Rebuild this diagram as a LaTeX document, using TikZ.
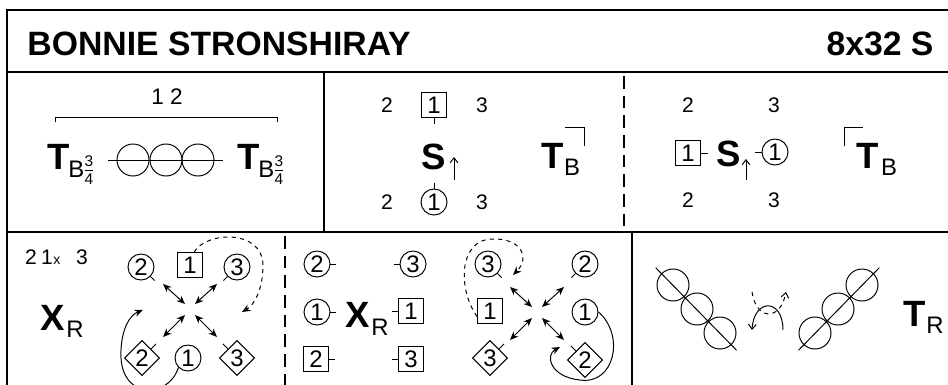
\documentclass[tikz,border=0pt]{standalone}
\usepackage{fontspec}
\setmainfont{Liberation Sans}
\usetikzlibrary{arrows.meta,shapes.geometric,calc}

\tikzset{
  frame/.style={line width=1.4pt},
  num/.style={font=\fontsize{15}{15}\selectfont},
  big/.style={font=\fontsize{26}{26}\selectfont\bfseries},
  sub/.style={font=\fontsize{17}{17}\selectfont},
  tiny/.style={font=\fontsize{11}{11}\selectfont,inner sep=0pt},
  lady/.style={circle,draw,inner sep=0pt,minimum size=0.65cm,font=\fontsize{17}{17}\selectfont},
  man/.style={rectangle,draw,inner sep=0pt,minimum size=0.62cm,font=\fontsize{17}{17}\selectfont},
  corner/.style={diamond,draw,inner sep=0pt,minimum size=0.88cm,font=\fontsize{17}{17}\selectfont},
  ring/.style={circle,draw,inner sep=0pt,minimum size=0.8cm},
  cross/.style={{Stealth[length=6pt,width=5pt]}-{Stealth[length=6pt,width=5pt]}},
  path/.style={-{Stealth[length=6pt,width=5pt]}},
  up/.style={-{Straight Barb[length=3.5pt,width=5.5pt]}},
}

\begin{document}
\begin{tikzpicture}[x=0.025cm,y=-0.025cm,line width=0.7pt]
\clip (0,0) rectangle (948,384);
% frame
\draw[frame] (7,400) |- (960,10);
\draw[frame] (7,72) -- (960,72);
\draw[frame] (7,232) -- (960,232);
\draw[line width=1pt] (324,72) -- (324,232);
\draw[line width=1pt,dash pattern=on 9pt off 5pt] (624,76) -- (624,232);
\draw[line width=1pt,dash pattern=on 9pt off 5pt] (285,236) -- (285,400);
\draw[line width=1pt] (632,232) -- (632,400);
\node[font=\fontsize{24}{24}\selectfont\bfseries,anchor=base west,inner sep=0pt] (title) at (27,55) {BONNIE STRONSHIRAY};
\node[font=\fontsize{24}{24}\selectfont\bfseries,anchor=base east,inner sep=0pt] (form) at (934,55) {8x32 S};

% bars 1-2
\node[font=\fontsize{16}{16}\selectfont,anchor=base] (bars) at (167,104) {1 2};
\draw (55,122) |- (277,117) -- (277,122);
\foreach \x/\xs in {47/0,237/1} {
  \node[big,anchor=base west,inner sep=0pt] (tb\xs) at (\x,169) {T};
  \node[sub,anchor=base west,inner sep=0pt] (tbb\xs) at (\x+21,177) {B};
  \node[tiny] (tbn\xs) at (\x+42,161) {3};
  \node[tiny] (tbd\xs) at (\x+42,179) {4};
  \draw[line width=0.5pt] (\x+38,170) -- (\x+46,170);
}
\node[ring] (r1) at (133,160) {};
\node[ring] (r2) at (166,160) {};
\node[ring] (r3) at (198,160) {};
\draw ([xshift=-6]r1.west) -- ([xshift=6]r3.east);

% set and turn
\node[num] (a2) at (387,105) {2};
\node[man] (a1) at (434,105) {1};
\node[num] (a3) at (482,105) {3};
\draw (a1.south) -- ++(0,6);
\node[big,inner sep=0pt] (as) at (434,157) {S};
\coordinate (aup) at (454,180);
\draw[up] (aup) -- ++(0,-23);
\node[num] (b2) at (387,202) {2};
\node[lady] (b1) at (434,202) {1};
\node[num] (b3) at (482,202) {3};
\draw (b1.north) -- ++(0,-6);
\node[big,inner sep=0pt] (at) at (553,156) {T};
\node[sub,inner sep=0pt] (atb) at (572,167) {B};
\draw (565,127) -| (584,146);

% set and turn, men's side
\node[num] (c2) at (688,105) {2};
\node[num] (c3) at (774,105) {3};
\node[man] (c1) at (688,153) {1};
\draw (c1.east) -- ++(7,0);
\node[big,inner sep=0pt] (cs) at (729,154) {S};
\coordinate (cup) at (746,180);
\draw[up] (cup) -- ++(0,-21);
\node[lady] (d1) at (775,152) {1};
\draw (d1.west) -- ++(-7,0);
\node[num] (d2) at (688,200) {2};
\node[num] (d3) at (774,200) {3};
\node[big,inner sep=0pt] (ct) at (868,156) {T};
\node[sub,inner sep=0pt] (ctb) at (889,167) {B};
\draw (844,146) |- (863,127);

% cross right, first
\node[num,anchor=base,inner sep=0pt] (e2) at (31,264) {2};
\node[num,anchor=base,inner sep=0pt] (e1) at (47,264) {1};
\node[font=\fontsize{10}{10}\selectfont,anchor=base,inner sep=0pt] (ex) at (57,264) {x};
\node[num,anchor=base,inner sep=0pt] (e3) at (82,264) {3};
\node[big,inner sep=0pt] (fx) at (53,318) {X};
\node[sub,inner sep=0pt] (fxr) at (75,329) {R};
\node[lady] (g2) at (141,267) {2};
\node[man] (g1) at (190,265) {1};
\node[lady] (g3) at (237,267) {3};
\node[corner] (h2) at (142,358) {2};
\node[lady] (h1) at (188,358) {1};
\node[corner] (h3) at (237,358) {3};
\draw (g2.south east) -- ++(4,4);
\draw (g3.south west) -- ++(-4,4);
\draw (h2.north east) -- ++(5,-5);
\draw (h3.north west) -- ++(-5,-5);
\coordinate (gm) at (190,310);
\draw[cross] ($(gm)+(-27,-26)$) -- ($(gm)+(-5,-6)$);
\draw[cross] ($(gm)+(27,-26)$) -- ($(gm)+(5,-6)$);
\draw[cross] ($(gm)+(-27,27)$) -- ($(gm)+(-5,5)$);
\draw[cross] ($(gm)+(27,27)$) -- ($(gm)+(5,5)$);
\draw[dashed,path] ([xshift=3]g1.north) .. controls (205,232) and (262,228) .. (263,265) .. controls (263,290) and (254,305) .. (242,312);
\draw[path] (h1.south west) .. controls (168,400) and (118,400) .. (121,350) .. controls (122,328) and (130,315) .. (143,310);

% cross right, second
\node[lady] (k2) at (317,264) {2};
\node[lady] (k3) at (413,264) {3};
\node[lady] (k1) at (317,312) {1};
\node[man] (m1) at (411,311) {1};
\node[man] (m2) at (316,359) {2};
\node[man] (m3) at (411,359) {3};
\foreach \n in {k2,k1,m2} \draw (\n.east) -- ++(6,0);
\foreach \n in {k3,m1,m3} \draw (\n.west) -- ++(-6,0);
\node[big,inner sep=0pt] (kx) at (358,315) {X};
\node[sub,inner sep=0pt] (kxr) at (380,327) {R};
\node[lady] (n3) at (488,264) {3};
\node[lady] (n2) at (585,264) {2};
\node[man] (n1) at (490,311) {1};
\node[lady] (p1) at (585,312) {1};
\node[corner] (p3) at (490,358) {3};
\node[corner] (p2) at (585,360) {2};
\draw (n3.south east) -- ++(4,4);
\draw (n2.south west) -- ++(-4,4);
\draw (p3.north east) -- ++(5,-5);
\draw (p2.north west) -- ++(-5,-5);
\coordinate (nm) at (537,313);
\draw[cross] ($(nm)+(-27,-26)$) -- ($(nm)+(-5,-6)$);
\draw[cross] ($(nm)+(27,-26)$) -- ($(nm)+(5,-6)$);
\draw[cross] ($(nm)+(-27,27)$) -- ($(nm)+(-5,5)$);
\draw[cross] ($(nm)+(27,27)$) -- ($(nm)+(5,5)$);
\draw[dashed,path] ([yshift=-4]n1.west) .. controls (458,290) and (458,240) .. (492,239) .. controls (522,238) and (530,258) .. (513,275);
\draw[path] (p1.east) .. controls (625,335) and (615,385) .. (580,380) .. controls (550,377) and (545,355) .. (560,347);

% turn right
\node[ring] (q1) at (673,285) {};
\node[ring] (q2) at (697,309) {};
\node[ring] (q3) at (720,333) {};
\draw ($(q1)!-0.72!(q2)$) -- ($(q3)!-0.72!(q2)$);
\node[ring] (s1) at (815,333) {};
\node[ring] (s2) at (838,309) {};
\node[ring] (s3) at (862,285) {};
\draw ($(s1)!-0.72!(s2)$) -- ($(s3)!-0.72!(s2)$);
\draw[up] (783,330) .. controls (783,298) and (754,298) .. (752,330);
\draw[dashed,up] (752,292) .. controls (756,320) and (780,322) .. (786,292);
\node[big,inner sep=0pt] (tr) at (915,314) {T};
\node[sub,inner sep=0pt] (trr) at (935,325) {R};
\end{tikzpicture}
\end{document}
